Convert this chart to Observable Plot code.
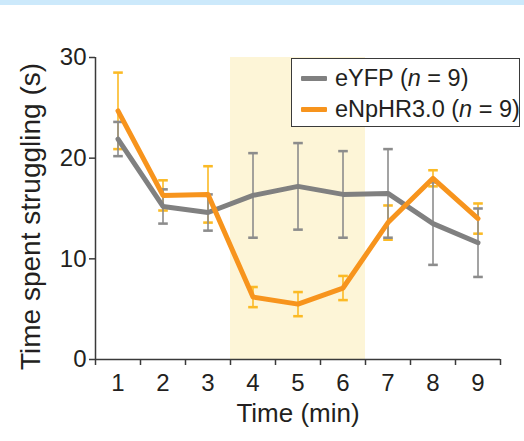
<!DOCTYPE html>
<html><head><meta charset="utf-8">
<script src="https://cdn.jsdelivr.net/npm/d3@7"></script>
<script src="https://cdn.jsdelivr.net/npm/@observablehq/plot@0.6"></script>
<style>
body{margin:0;background:#fff;font-family:"Liberation Sans",Arial,Helvetica,sans-serif;}
#wrap{position:relative;width:524px;height:441px;overflow:hidden;background:#fff;}
#band{position:absolute;left:0;top:0;width:524px;height:5px;background:#cce9fb;}
#legend{position:absolute;left:291px;top:58px;width:229px;height:69px;border:1.5px solid #3a3a3a;box-sizing:border-box;background:#fff;font-size:23.5px;color:#231f20;}
.row{position:absolute;left:9px;display:flex;align-items:center;white-space:nowrap;}
.sw{width:26px;height:5px;margin-right:8px;border-radius:1px;}
</style></head>
<body>
<div id="wrap">
  <div id="chart"></div>
  <div id="band"></div>
  <div id="legend"></div>
</div>
<script>
const times = [1, 2, 3, 4, 5, 6, 7, 8, 9];
const eyfpMean = [21.9, 15.2, 14.6, 16.3, 17.2, 16.4, 16.5, 13.5, 11.6];
const eyfpErr  = [1.7, 1.7, 1.8, 4.2, 4.3, 4.3, 4.4, 4.1, 3.4];
const nphrMean = [24.7, 16.3, 16.4, 6.2, 5.5, 7.1, 13.6, 18.0, 14.0];
const nphrErr  = [3.8, 1.5, 2.8, 1.0, 1.2, 1.2, 1.7, 0.8, 1.5];
const seriesNames = ["eYFP", "eNpHR3.0"];
const seriesN = [9, 9];
const xDomain = [0.5, 9.5];
const yDomain = [0, 30];
const yTicks = [0, 10, 20, 30];
const xTickMarks = [0.5, 1.5, 2.5, 3.5, 4.5, 5.5, 6.5, 7.5, 8.5, 9.5];
const lightPeriod = [{start: 3.5, end: 6.5, lo: 0, hi: 30}];

const grayC = "#808080", grayErrC = "#8c8c8c";
const orangeC = "#f7941d", orangeErrC = "#fbba25";
const axisC = "#3a3a3a", textC = "#231f20";

const eyfp = times.map((t, i) => ({t, m: eyfpMean[i], lo: eyfpMean[i] - eyfpErr[i], hi: eyfpMean[i] + eyfpErr[i]}));
const nphr = times.map((t, i) => ({t, m: nphrMean[i], lo: nphrMean[i] - nphrErr[i], hi: nphrMean[i] + nphrErr[i]}));

const chart = Plot.plot({
  width: 524, height: 441,
  marginLeft: 95, marginRight: 24, marginTop: 57, marginBottom: 82,
  x: {domain: xDomain},
  y: {domain: yDomain},
  style: {fontFamily: '"Liberation Sans", Arial, Helvetica, sans-serif', color: textC, background: "transparent"},
  marks: [
    Plot.rect(lightPeriod, {x1: "start", x2: "end", y1: "lo", y2: "hi", fill: "#fdf5d7"}),
    Plot.axisY({ticks: yTicks, tickSize: 6, tickPadding: 3, fontSize: 24, label: null, stroke: axisC, strokeWidth: 1.5, color: textC}),
    Plot.axisX({ticks: xTickMarks, tickSize: 6, tickFormat: () => "", label: null, stroke: axisC, strokeWidth: 1.5}),
    Plot.axisX({ticks: times, tickSize: 0, tickPadding: 14, fontSize: 24, label: null, color: textC}),
    Plot.ruleY([yDomain[0]], {stroke: axisC, strokeWidth: 1.5}),
    Plot.ruleX([xDomain[0]], {stroke: axisC, strokeWidth: 1.5}),
    Plot.link(nphr, {x1: "t", x2: "t", y1: "lo", y2: "hi", stroke: orangeErrC, strokeWidth: 1.6, markerStart: "tick", markerEnd: "tick"}),
    Plot.link(eyfp, {x1: "t", x2: "t", y1: "lo", y2: "hi", stroke: grayErrC, strokeWidth: 1.6, markerStart: "tick", markerEnd: "tick"}),
    Plot.line(eyfp, {x: "t", y: "m", stroke: grayC, strokeWidth: 5}),
    Plot.line(nphr, {x: "t", y: "m", stroke: orangeC, strokeWidth: 5}),
    Plot.text(["Time (min)"], {text: d => d, frameAnchor: "bottom", dy: 54, textAnchor: "middle", lineAnchor: "middle", fontSize: 26, fill: textC}),
    Plot.text(["Time spent struggling (s)"], {text: d => d, frameAnchor: "left", dx: -64, dy: 8, rotate: -90, textAnchor: "middle", lineAnchor: "middle", fontSize: 28, fill: textC})
  ]
});
document.getElementById("chart").appendChild(chart);

const legend = document.getElementById("legend");
const colors = [grayC, orangeC];
const tops = [6, 37];
seriesNames.forEach((name, i) => {
  const row = document.createElement("div");
  row.className = "row";
  row.style.top = tops[i] + "px";
  row.innerHTML = `<div class="sw" style="background:${colors[i]}"></div><span>${name} (<i>n</i> = ${seriesN[i]})</span>`;
  legend.appendChild(row);
});
</script>
</body></html>
